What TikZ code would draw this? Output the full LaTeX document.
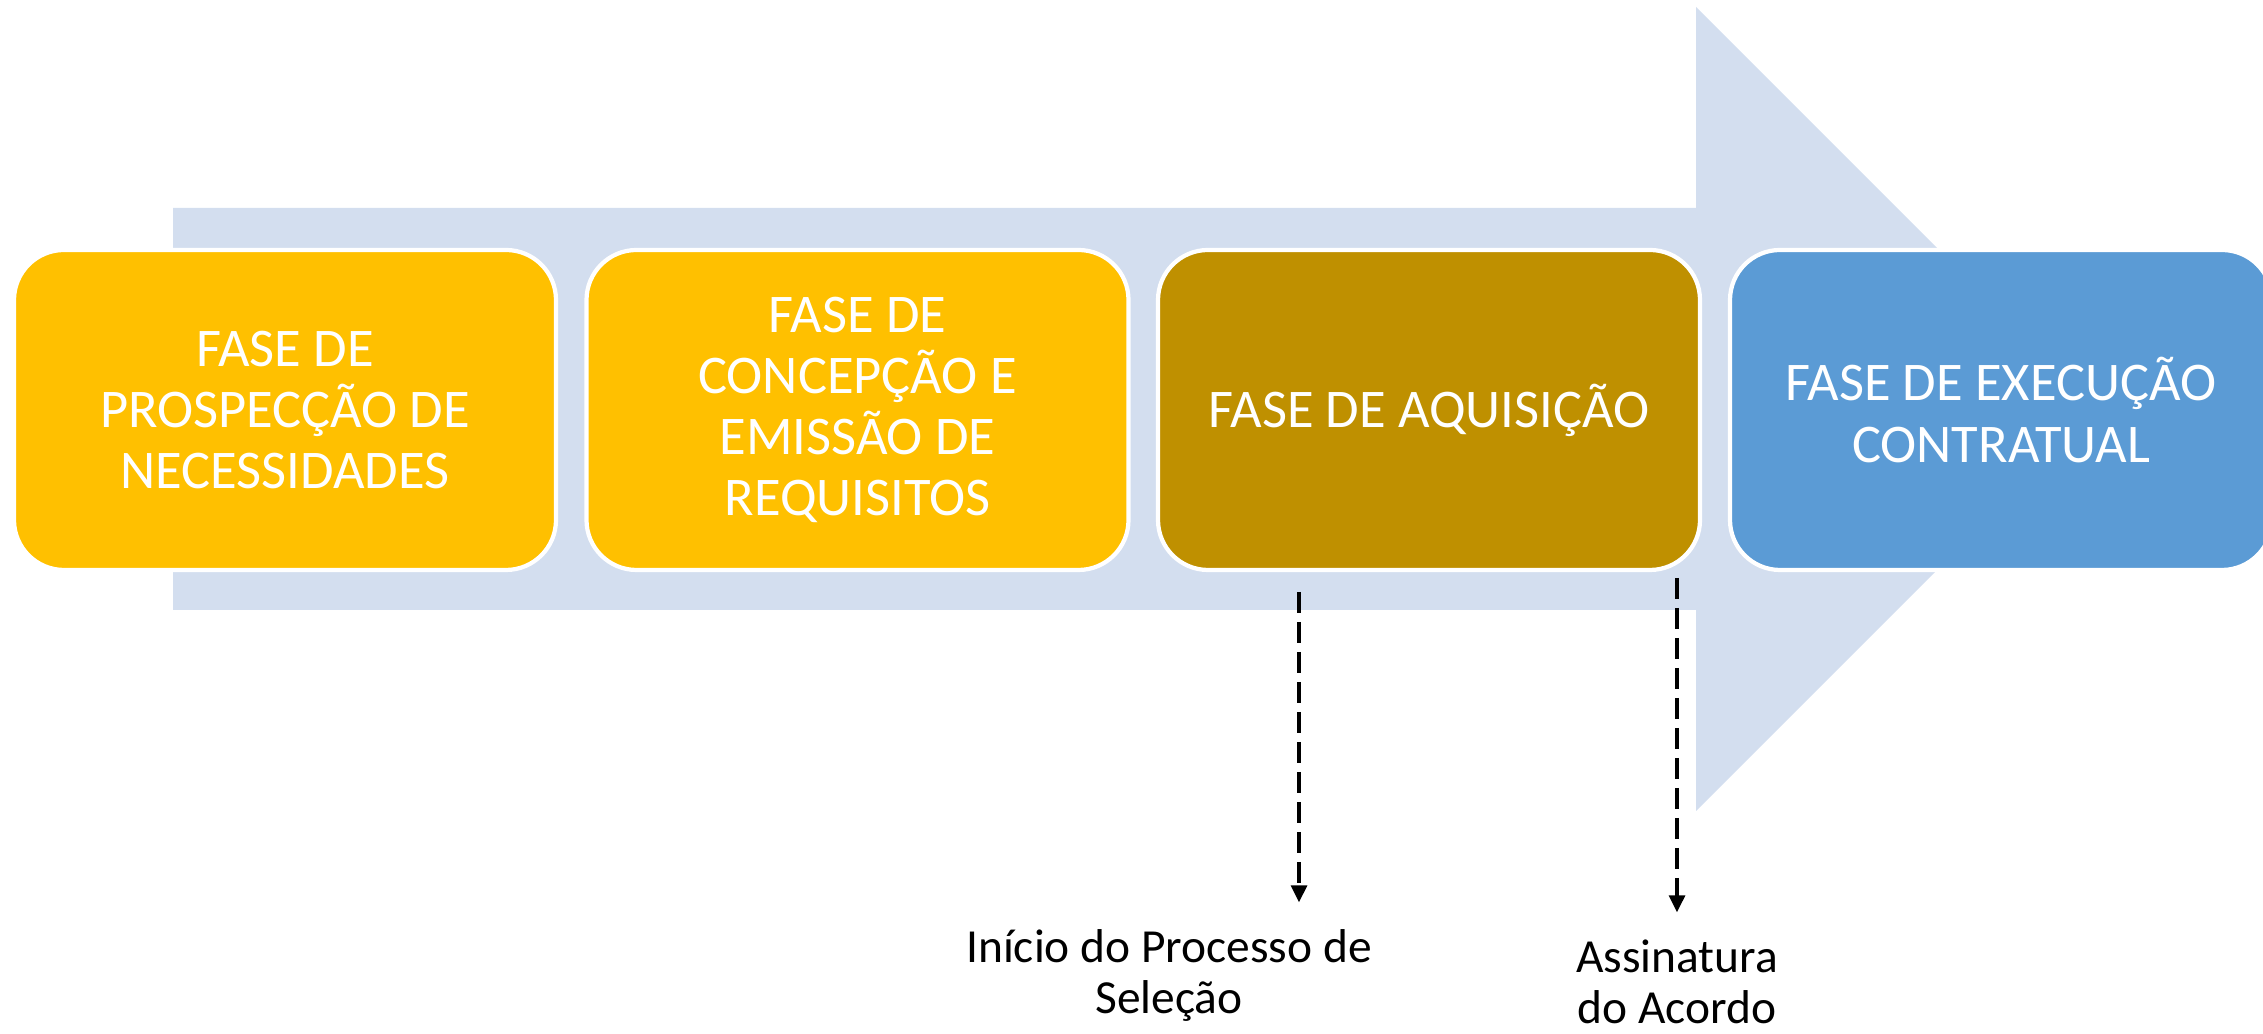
\documentclass[tikz,border=0pt]{standalone}
\usepackage{fontspec}
\setmainfont{Carlito}
\usetikzlibrary{arrows.meta}
\definecolor{pale}{RGB}{211,222,239}
\definecolor{amber}{RGB}{255,192,0}
\definecolor{gold}{RGB}{191,144,0}
\definecolor{steel}{RGB}{91,155,213}

\begin{document}
\begin{tikzpicture}[
  phase/.style={draw=white, line width=1.2pt, rounded corners=0.5cm, minimum width=5.42cm, minimum height=3.2cm, inner sep=0pt, align=center, text=white, font=\fontsize{15.5}{17.4}\selectfont},
  milestone/.style={align=center, inner sep=0pt, font=\fontsize{13.5}{14.5}\selectfont},
  dashedarrow/.style={line width=0.9pt, dash pattern=on 0.21cm off 0.09cm, shorten >=0.27cm, -{Triangle[length=0.17cm, width=0.16cm]}}
]
\useasboundingbox (0, 0) rectangle (22.63, 10.34);
% big arrow behind the phases
\fill[pale] (1.73, 4.24) -- (16.96, 4.24) -- (16.96, 2.23) -- (20.98, 6.25) -- (16.96, 10.27) -- (16.96, 8.26) -- (1.73, 8.26) -- cycle;
\node[phase, fill=amber] (prosp) at (2.85, 6.24) {FASE DE\\PROSPECÇÃO DE\\NECESSIDADES};
\node[phase, fill=amber] (concep) at (8.575, 6.24) {FASE DE\\CONCEPÇÃO E\\EMISSÃO DE\\REQUISITOS};
\node[phase, fill=gold] (aquis) at (14.29, 6.24) {FASE DE AQUISIÇÃO};
\node[phase, fill=steel] (exec) at (20.01, 6.24) {FASE DE EXECUÇÃO\\CONTRATUAL};
% milestones
\coordinate (sel) at (12.99, 4.42);
\coordinate (sig) at (16.77, 4.56);
\node[milestone] (inicio) at (11.69, 0.58) {Início do Processo de\\Seleção};
\node[milestone] (assin) at (16.77, 0.52) {Assinatura\\do Acordo};
\draw[dashedarrow] (sel) -- (sel |- inicio.north);
\draw[dashedarrow] (sig) -- (assin.north);
\end{tikzpicture}
\end{document}
